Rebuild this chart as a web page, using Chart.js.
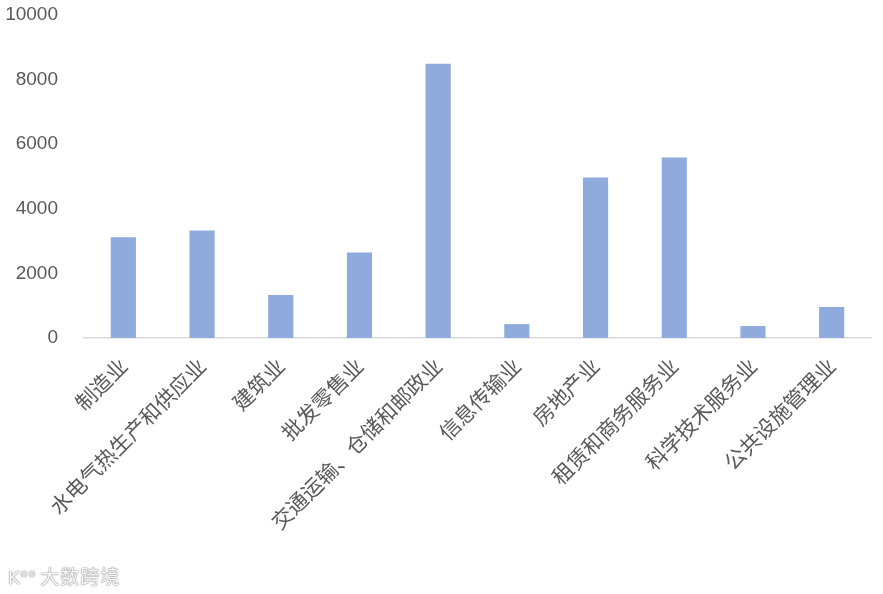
<!DOCTYPE html>
<html>
<head>
<meta charset="utf-8">
<script src="https://cdn.jsdelivr.net/npm/chart.js@4"></script>
<style>
  html, body { margin: 0; padding: 0; background: #fff; }
  #wrap { position: relative; width: 883px; height: 594px; }
  #watermark {
    position: absolute; left: 8px; top: 562px;
    font-family: "Noto Sans CJK SC", sans-serif; font-size: 19px;
    color: #fafafa;
    text-shadow: 0 0 1px #888, 0 0 1px #888, 0 0 2px #bbb;
    letter-spacing: 1px;
  }
  #watermark .logo { font-family: "DejaVu Sans", sans-serif; font-size: 18px; margin-right: 4px; }
</style>
</head>
<body>
<div id="wrap">
  <canvas id="chart" width="883" height="594"></canvas>
  <div id="watermark"><span class="logo">K<sup style="font-size:11px">oo</sup></span>大数跨境</div>
</div>
<script>
// Industry categories and values
const categories = ['制造业', '水电气热生产和供应业', '建筑业', '批发零售业', '交通运输、仓储和邮政业',
  '信息传输业', '房地产业', '租赁和商务服务业', '科学技术服务业', '公共设施管理业'];
const values = [3120, 3330, 1330, 2650, 8490, 430, 4970, 5590, 370, 960];
const yTicks = [0, 2000, 4000, 6000, 8000, 10000];

const AXIS_Y = 338;   // pixel row of the category axis
const PLOT_TOP = 15;  // pixel row of the 10000 tick
const PLOT_LEFT = 84;

const ctx = document.getElementById('chart').getContext('2d');

new Chart(ctx, {
  type: 'bar',
  data: {
    labels: categories,
    datasets: [{
      data: values,
      backgroundColor: '#8FAADC',
      borderWidth: 0,
      categoryPercentage: 1,
      barPercentage: 0.32
    }]
  },
  options: {
    responsive: false,
    animation: false,
    layout: { padding: { top: 0, right: 12, bottom: 0, left: 0 } },
    plugins: {
      legend: { display: false },
      tooltip: { enabled: false }
    },
    scales: {
      x: {
        grid: { display: false, drawTicks: false },
        border: { display: true, color: '#D9D9D9', width: 1.5 },
        ticks: {
          color: '#595959',
          font: { family: '"Noto Sans CJK SC", sans-serif', size: 21 },
          maxRotation: 45,
          minRotation: 45,
          autoSkip: false,
          padding: 15
        },
        afterFit: scale => { scale.height = 594 - AXIS_Y; }
      },
      y: {
        min: 0,
        max: 10000,
        grid: { display: false, drawTicks: false },
        border: { display: false },
        afterBuildTicks: scale => { scale.ticks = yTicks.map(v => ({ value: v })); },
        ticks: {
          color: '#595959',
          font: { family: '"Liberation Sans", sans-serif', size: 19 },
          padding: 26,
          callback: v => String(v)
        },
        afterFit: scale => {
          scale.width = PLOT_LEFT;
          scale.paddingTop = PLOT_TOP;
          scale.paddingBottom = 0;
        }
      }
    }
  }
});
</script>
</body>
</html>
